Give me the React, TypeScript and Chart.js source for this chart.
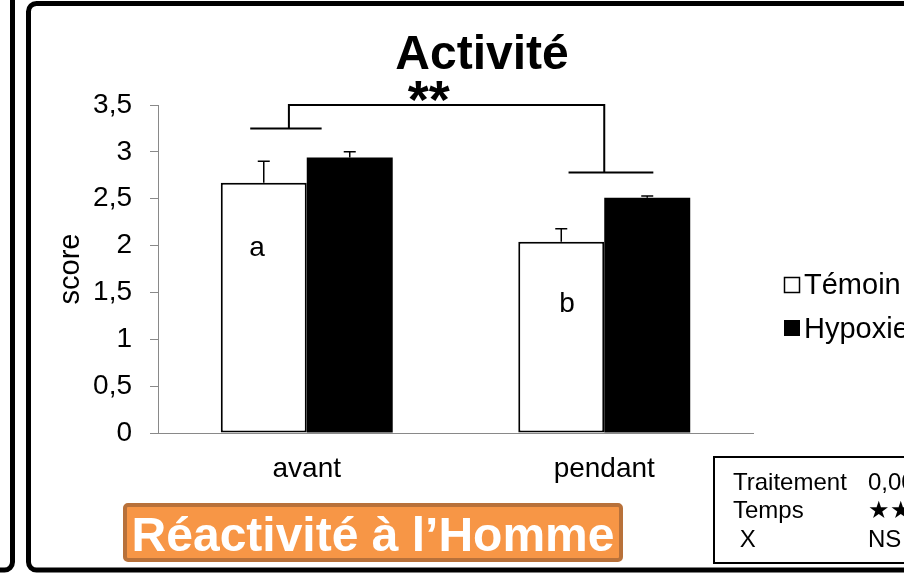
import React, { useEffect, useRef } from "react";
import { Chart, registerables } from "chart.js";

Chart.register(...registerables);

// ---------- data ----------
const categories = ["avant", "pendant"];
const seriesNames = ["Témoin", "Hypoxie"];
const temoinValues = [2.67, 2.04];
const hypoxieValues = [2.94, 2.51];
const temoinErrors = [0.23, 0.14];
const hypoxieErrors = [0.06, 0.02];
const yTicks = [0, 0.5, 1, 1.5, 2, 2.5, 3, 3.5];
const groupLetters = ["a", "b"];
const groupLetterX = [-0.167, 0.875]; // category-index units
const groupLetterY = [1.97, 1.37]; // score units
// significance bracket (x in category-index units, y in score units)
const bracketX = [-0.06, 1.0];
const bracketTopY = 3.5;
const bracketFootY = [3.25, 2.78];
const bracketFootSpanLeft = [-0.19, 0.05];
const bracketFootSpanRight = [0.88, 1.165];
const bracketStars = "**";
const bracketStarsX = 0.41;
const bracketStarsY = 3.36;
const statLabels = ["Traitement", "Temps", " X"];
const statValues = ["0,006", "★★", "NS"];
const chartTitle = "Activité";
const yTitle = "score";
const bannerText = "Réactivité à l’Homme";

const FONT = "'Liberation Sans', Arial, Helvetica, sans-serif";

const decorPlugin = {
  id: "decor",
  beforeDraw(chart: any) {
    const ctx = chart.ctx;
    ctx.save();
    ctx.fillStyle = "#ffffff";
    ctx.fillRect(0, 0, chart.width, chart.height);
    ctx.strokeStyle = "#000";
    ctx.lineWidth = 5;
    // left neighbouring panel edge
    ctx.beginPath();
    ctx.roundRect(-100, -30, 112.5, 600, 8);
    ctx.stroke();
    // main panel
    ctx.beginPath();
    ctx.roundRect(28.5, 3.5, 1000, 566.5, 8);
    ctx.stroke();
    ctx.restore();
  },
  afterDatasetsDraw(chart: any) {
    const ctx = chart.ctx;
    const xs = chart.scales.x;
    const ys = chart.scales.y;
    const x0 = xs.getPixelForValue(0);
    const step = xs.getPixelForValue(1) - x0;
    const px = (f: number) => x0 + f * step;
    const py = (v: number) => ys.getPixelForValue(v);
    ctx.save();
    // error bars
    const errs = [temoinErrors, hypoxieErrors];
    const vals = [temoinValues, hypoxieValues];
    ctx.strokeStyle = "#000";
    ctx.lineWidth = 1.5;
    for (let d = 0; d < 2; d++) {
      const meta = chart.getDatasetMeta(d);
      meta.data.forEach((bar: any, i: number) => {
        const top = py(vals[d][i] + errs[d][i]);
        const base = py(vals[d][i]);
        ctx.beginPath();
        ctx.moveTo(bar.x, base);
        ctx.lineTo(bar.x, top);
        ctx.moveTo(bar.x - 6, top);
        ctx.lineTo(bar.x + 6, top);
        ctx.stroke();
      });
    }
    // group letters
    ctx.fillStyle = "#000";
    ctx.font = `28px ${FONT}`;
    ctx.textAlign = "center";
    ctx.textBaseline = "middle";
    groupLetters.forEach((l, i) => {
      ctx.fillText(l, px(groupLetterX[i]), py(groupLetterY[i]));
    });
    // bracket
    ctx.lineWidth = 2;
    ctx.beginPath();
    ctx.moveTo(px(bracketX[0]), py(bracketFootY[0]));
    ctx.lineTo(px(bracketX[0]), py(bracketTopY));
    ctx.lineTo(px(bracketX[1]), py(bracketTopY));
    ctx.lineTo(px(bracketX[1]), py(bracketFootY[1]));
    ctx.moveTo(px(bracketFootSpanLeft[0]), py(bracketFootY[0]));
    ctx.lineTo(px(bracketFootSpanLeft[1]), py(bracketFootY[0]));
    ctx.moveTo(px(bracketFootSpanRight[0]), py(bracketFootY[1]));
    ctx.lineTo(px(bracketFootSpanRight[1]), py(bracketFootY[1]));
    ctx.stroke();
    ctx.font = `bold 54px ${FONT}`;
    ctx.textBaseline = "alphabetic";
    ctx.fillText(bracketStars, px(bracketStarsX), py(bracketStarsY));
    ctx.restore();
  },
  afterDraw(chart: any) {
    const ctx = chart.ctx;
    ctx.save();
    // title
    ctx.fillStyle = "#000";
    ctx.font = `bold 48px ${FONT}`;
    ctx.textAlign = "center";
    ctx.textBaseline = "alphabetic";
    ctx.fillText(chartTitle, 482, 69);
    // legend
    ctx.textAlign = "left";
    ctx.font = `29px ${FONT}`;
    ctx.lineWidth = 1.5;
    ctx.strokeStyle = "#000";
    ctx.fillStyle = "#fff";
    ctx.fillRect(784.5, 277.5, 15, 15);
    ctx.strokeRect(784.5, 277.5, 15, 15);
    ctx.fillStyle = "#000";
    ctx.fillRect(784, 320, 16, 16);
    ctx.fillText(seriesNames[0], 804, 294);
    ctx.fillText(seriesNames[1], 804, 338);
    // stats box
    ctx.lineWidth = 2;
    ctx.strokeRect(714, 457, 260, 106);
    ctx.font = `24px ${FONT}`;
    const baselines = [490, 518, 547];
    statLabels.forEach((l, i) => {
      ctx.fillText(l, 733, baselines[i]);
      ctx.fillText(statValues[i], 868, baselines[i]);
    });
    // banner
    ctx.beginPath();
    ctx.roundRect(125, 505, 496, 55, 3);
    ctx.fillStyle = "#F79646";
    ctx.fill();
    ctx.lineWidth = 4;
    ctx.strokeStyle = "#B8713A";
    ctx.stroke();
    ctx.fillStyle = "#fff";
    ctx.font = `bold 48px ${FONT}`;
    ctx.textAlign = "center";
    ctx.fillText(bannerText, 373, 551);
    ctx.restore();
  },
};

export default function App() {
  const ref = useRef<HTMLCanvasElement | null>(null);
  useEffect(() => {
    document.body.style.margin = "0";
    Chart.defaults.font.family = FONT;
    const chart = new Chart(ref.current as HTMLCanvasElement, {
      type: "bar",
      data: {
        labels: categories,
        datasets: [
          {
            label: seriesNames[0],
            data: temoinValues,
            backgroundColor: "#ffffff",
            borderColor: "#000000",
            borderWidth: 2,
            borderSkipped: false,
          },
          {
            label: seriesNames[1],
            data: hypoxieValues,
            backgroundColor: "#000000",
            borderColor: "#000000",
            borderWidth: 0,
          },
        ],
      },
      options: {
        responsive: false,
        animation: false,
        events: [],
        datasets: { bar: { categoryPercentage: 0.578, barPercentage: 1 } },
        layout: { padding: { left: 30, right: 151, top: 105, bottom: 82 } },
        plugins: { legend: { display: false }, tooltip: { enabled: false }, title: { display: false } },
        scales: {
          x: {
            afterFit: (s: any) => { s.height = 60; },
            grid: { display: true, drawOnChartArea: false, drawTicks: false },
            border: { display: true, color: "#898989", width: 1 },
            ticks: { color: "#000", font: { size: 28 }, padding: 19 },
          },
          y: {
            min: 0,
            max: 3.5,
            afterFit: (s: any) => { s.width = 128; },
            afterBuildTicks: (s: any) => { s.ticks = yTicks.map((v) => ({ value: v })); },
            grid: { display: true, drawOnChartArea: false, drawTicks: true, tickLength: 8, color: "#898989" },
            border: { display: true, color: "#898989", width: 1 },
            ticks: {
              color: "#000",
              font: { size: 28 },
              padding: 18,
              callback: (v: any) => String(v).replace(".", ","),
            },
            title: { display: true, text: yTitle, color: "#000", font: { size: 29 }, padding: { top: 24, bottom: 0 } },
          },
        },
      },
      plugins: [decorPlugin],
    });
    return () => chart.destroy();
  }, []);
  return (
    <div style={{ position: "fixed", left: 0, top: 0, width: 904, height: 575 }}>
      <canvas ref={ref} width={904} height={575} style={{ display: "block" }} />
    </div>
  );
}
